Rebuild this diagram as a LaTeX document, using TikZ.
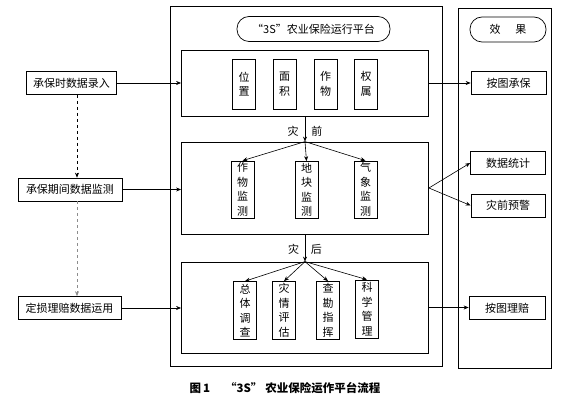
\documentclass[tikz,border=0pt]{standalone}
\usepackage{fontspec}
\setmainfont{Noto Sans CJK SC}
\usetikzlibrary{arrows.meta, positioning, calc}
\tikzset{
  block/.style={
    rectangle,
    draw,
    line width=0.7pt,
    align=center,
    minimum height=23pt,
    inner sep=2pt,
    font=\fontsize{11pt}{14.5pt}\selectfont
  },
  item/.style={
    rectangle,
    draw,
    line width=0.7pt,
    align=center,
    minimum width=23pt,
    inner sep=1pt,
    font=\fontsize{11pt}{14.5pt}\selectfont
  },
  frame/.style={
    rectangle,
    draw,
    line width=0.8pt
  },
  pill/.style={
    rectangle,
    rounded corners=12pt,
    draw,
    line width=0.7pt,
    minimum height=25pt,
    font=\fontsize{11pt}{14.5pt}\selectfont
  },
  stagelabel/.style={font=\fontsize{11pt}{14.5pt}\selectfont, inner sep=0pt},
  arrow/.style={-{Stealth[length=5pt, width=4pt]}, line width=0.6pt},
  dasharrow/.style={arrow, dashed}
}

\begin{document}
\begin{tikzpicture}[x=1pt, y=-1pt]
  \useasboundingbox (0,0) rectangle (568,403);

  % platform column
  \node[frame, minimum width=272pt, minimum height=360pt] (platform) at (306,186) {};
  \node[pill, minimum width=153pt] (ptitle) at (313.5,29) {“3S”农业保险运行平台};
  \node[frame, minimum width=247pt, minimum height=66pt] (insure) at (305,83) {};
  \node[frame, minimum width=247pt, minimum height=92pt] (monitor) at (305,188) {};
  \node[frame, minimum width=247pt, minimum height=91pt] (claim) at (305,307.5) {};

  \node[item, minimum height=50pt] (pos) at (244,84) {位\\置};
  \node[item, minimum height=50pt] (area) at (284.5,84) {面\\积};
  \node[item, minimum height=50pt] (crop) at (325.5,84) {作\\物};
  \node[item, minimum height=50pt] (owner) at (366,84) {权\\属};

  \node[item, minimum height=57pt] (cropmon) at (242.5,189.5) {作\\物\\监\\测};
  \node[item, minimum height=57pt] (plotmon) at (306.5,190) {地\\块\\监\\测};
  \node[item, minimum height=57pt] (weathermon) at (365.5,189.5) {气\\象\\监\\测};

  \node[item, minimum height=58pt] (survey) at (245,310.5) {总\\体\\调\\查};
  \node[item, minimum height=58pt] (assess) at (284,310.5) {灾\\情\\评\\估};
  \node[item, minimum height=58pt] (command) at (328,310.5) {查\\勘\\指\\挥};
  \node[item, minimum height=58pt] (manage) at (367,309) {科\\学\\管\\理};

  % effect column
  \node[frame, minimum width=93pt, minimum height=360pt] (effect) at (504.5,188) {};
  \node[pill, minimum width=76pt] (etitle) at (508,29.5) {效\hspace{15pt}果};
  \node[block, minimum width=75pt] (bymap) at (508.5,83) {按图承保};
  \node[block, minimum width=75pt] (stats) at (508,163) {数据统计};
  \node[block, minimum width=74pt] (warn) at (508,205.5) {灾前预警};
  \node[block, minimum width=76pt] (bypay) at (507,308) {按图理赔};

  % data inputs
  \node[block, minimum width=90pt] (in1) at (71.5,83) {承保时数据录入};
  \node[block, minimum width=104pt] (in2) at (70,189.5) {承保期间数据监测};
  \node[block, minimum width=103pt] (in3) at (69.5,308) {定损理赔数据运用};

  \coordinate (dx1) at ([xshift=5.5pt]in1.south);
  \coordinate (dx2) at ([xshift=7pt]in2.south);
  \draw[dasharrow] (dx1) -- (dx1 |- in2.north);
  \draw[dasharrow, black!45] (dx2) -- (dx2 |- in3.north);

  \draw[arrow] (in1) -- (insure);
  \draw[arrow] (in2.east) -- (in2.east -| monitor.west);
  \draw[arrow] (in3.east) -- (in3.east -| claim.west);

  \draw[arrow] (insure.south) -- node[stagelabel, yshift=-2pt]{灾\hspace{13pt}前} (monitor.north);
  \draw[arrow] (monitor.south) -- node[stagelabel, yshift=-1pt]{灾\hspace{12pt}后} (claim.north);

  \draw[arrow] (monitor.north) -- (cropmon.north);
  \draw[arrow] (monitor.north) -- (plotmon.north);
  \draw[arrow] (monitor.north) -- (weathermon.north);

  \draw[arrow] (claim.north) -- (survey.north);
  \draw[arrow] (claim.north) -- (assess.north);
  \draw[arrow] (claim.north) -- (command.north);
  \draw[arrow] (claim.north) -- (manage.north);

  \draw[arrow] (insure) -- (bymap);
  \draw[arrow] (monitor.east) -- (stats.west);
  \draw[arrow] (monitor.east) -- (warn.west);
  \draw[arrow] (claim.east) -- (claim.east -| bypay.west);

  \node[font=\bfseries\fontsize{11.5pt}{14pt}\selectfont] (caption) at (285,388)
    {图\,1\hspace{15pt}“3S”\hspace{3pt}农业保险运作平台流程};
\end{tikzpicture}
\end{document}
